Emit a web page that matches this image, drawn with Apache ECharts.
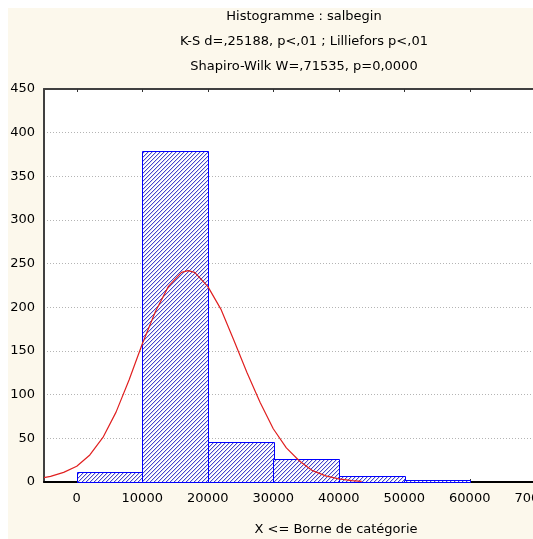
<!DOCTYPE html>
<html>
<head>
<meta charset="utf-8">
<script src="https://cdn.jsdelivr.net/npm/echarts@6/dist/echarts.min.js"></script>
<style>
  html, body { margin: 0; padding: 0; background: #ffffff; }
  #chart { position: absolute; left: 8px; top: 8px; width: 525px; height: 531px; }
</style>
</head>
<body>
<div id="chart"></div>
<script>
// histogram classes (bornes) and counts
var binStart = [0, 10000, 20000, 30000, 40000, 50000];
var binEnd = [10000, 20000, 30000, 40000, 50000, 60000];
var counts = [11, 379, 46, 26, 7, 2];

// normal curve
var curveX = [-5000, -4000, -2000, 0, 2000, 4000, 6000, 8000, 10000, 12000, 14000, 16000, 17000,
              18000, 20000, 22000, 24000, 26000, 28000, 30000, 32000, 34000, 36000, 38000, 40000, 42000, 43500];
var curveY = [5, 6.5, 11, 18, 31, 51, 80, 117, 158, 195, 224, 240, 242,
              240, 224, 198, 162, 125, 91, 61, 39, 24, 13, 7, 3.5, 1.5, 0.8];

var xTicks = [0, 10000, 20000, 30000, 40000, 50000, 60000, 70000];
var titleLines = ['Histogramme : salbegin', 'K-S d=,25188, p<,01 ; Lilliefors p<,01', 'Shapiro-Wilk W=,71535, p=0,0000'];
var xName = 'X <= Borne de catégorie';

// hatch pattern "/"
var cv = document.createElement('canvas');
cv.width = 4; cv.height = 4;
var cx = cv.getContext('2d');
cx.fillStyle = '#ffffff';
cx.fillRect(0, 0, 4, 4);
for (var k = 0; k < 4; k++) {
    cx.fillStyle = '#4444cc';
    cx.fillRect(3 - k, k, 1, 1);
    cx.fillStyle = '#d4d4f2';
    cx.fillRect((4 - k) % 4, k, 1, 1);
}
var hatch = { image: cv, repeat: 'repeat' };

var bars = [];
for (var i = 0; i < counts.length; i++) {
    bars.push([binStart[i], binEnd[i], counts[i]]);
}
var curve = [];
for (var j = 0; j < curveX.length; j++) {
    curve.push([curveX[j], curveY[j]]);
}

var font = 'DejaVu Sans';
var graphics = [];
for (var t = 0; t < titleLines.length; t++) {
    graphics.push({
        type: 'text', x: 296, y: 9 + t * 25,
        style: { text: titleLines[t], font: '13px ' + font, fill: '#000', textAlign: 'center', textVerticalAlign: 'middle' }
    });
}
graphics.push({
    type: 'text', x: 328, y: 522,
    style: { text: xName, font: '13px ' + font, fill: '#000', textAlign: 'center', textVerticalAlign: 'middle' }
});

var myChart = echarts.init(document.getElementById('chart'));
myChart.setOption({
    backgroundColor: '#fcf8ec',
    animation: false,
    graphic: graphics,
    grid: {
        left: 36, top: 81, width: 524, height: 393,
        show: true, backgroundColor: '#ffffff', borderWidth: 0,
        outerBoundsMode: 'none'
    },
    xAxis: [{
        type: 'value', min: -5000, max: 75000, position: 'bottom',
        axisLine: { show: true, onZero: false, lineStyle: { color: '#000', width: 2 } },
        axisTick: { show: true, inside: true, length: 3, customValues: xTicks, lineStyle: { color: '#333' } },
        axisLabel: {
            customValues: xTicks, margin: 10, fontFamily: font, fontSize: 13, color: '#000',
            formatter: function (v) { return String(v); }
        },
        splitLine: { show: false }
    }, {
        type: 'value', min: -5000, max: 75000, position: 'top',
        axisLine: { show: true, onZero: false, lineStyle: { color: '#404040', width: 2 } },
        axisTick: { show: true, inside: true, length: 3, customValues: xTicks, lineStyle: { color: '#333' } },
        axisLabel: { show: false },
        splitLine: { show: false }
    }],
    yAxis: {
        type: 'value', min: 0, max: 450, interval: 50,
        axisLine: { show: true, onZero: false, lineStyle: { color: '#404040', width: 2 } },
        axisTick: { show: false },
        axisLabel: { margin: 9, fontFamily: font, fontSize: 13, color: '#000' },
        splitLine: { show: true, lineStyle: { color: '#b4b4b4', type: [1, 2], width: 1 } }
    },
    series: [{
        type: 'custom',
        data: bars,
        renderItem: function (params, api) {
            var p0 = api.coord([api.value(0), api.value(2)]);
            var p1 = api.coord([api.value(1), 0]);
            return {
                type: 'rect',
                shape: { x: Math.round(p0[0]) + 0.5, y: Math.round(p0[1]) + 0.5, width: Math.round(p1[0] - p0[0]), height: Math.round(p1[1] - p0[1]) },
                style: { fill: hatch, stroke: '#0000ff', lineWidth: 1 }
            };
        },
        z: 2
    }, {
        type: 'line',
        data: curve,
        showSymbol: false,
        symbol: 'none',
        lineStyle: { color: '#e02020', width: 1.2 },
        z: 3
    }]
});
</script>
</body>
</html>
